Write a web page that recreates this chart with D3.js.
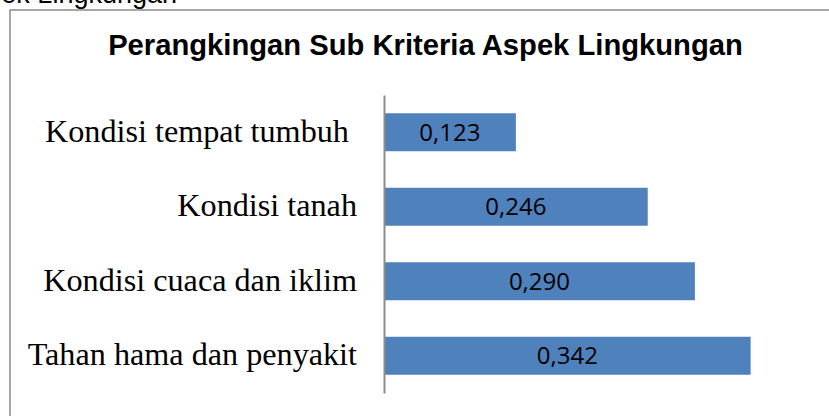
<!DOCTYPE html>
<html>
<head>
<meta charset="utf-8">
<script src="https://cdn.jsdelivr.net/npm/d3@7"></script>
<style>
  body { margin: 0; background: #fff; }
  svg { display: block; }
</style>
</head>
<body>
<div class="chart-wrapper"></div>
<script>
const categories = ['Kondisi tempat tumbuh ', 'Kondisi tanah', 'Kondisi cuaca dan iklim', 'Tahan hama dan penyakit']
const values = [0.123, 0.246, 0.290, 0.342]
const valueLabels = ['0,123', '0,246', '0,290', '0,342']

const width = 829
const height = 416

const svg = d3.select('.chart-wrapper')
    .append('svg')
    .attr('width', width)
    .attr('height', height)

// caption text cut off above the chart
svg.append('text')
    .attr('x', 177)
    .attr('y', 3)
    .attr('text-anchor', 'end')
    .style('font-family', 'Liberation Sans, Arial, sans-serif')
    .style('font-size', '27px')
    .text('Aspek Lingkungan')

// chart frame (runs off the bottom and right)
svg.append('rect')
    .attr('x', 10)
    .attr('y', 10)
    .attr('width', 900)
    .attr('height', 500)
    .attr('fill', 'none')
    .attr('stroke', '#8a8a8a')
    .attr('stroke-width', 1.5)

svg.append('text')
    .attr('x', 425.5)
    .attr('y', 55)
    .attr('text-anchor', 'middle')
    .style('font-family', 'Liberation Sans, Arial, sans-serif')
    .style('font-weight', 'bold')
    .style('font-size', '29.2px')
    .text('Perangkingan Sub Kriteria Aspek Lingkungan')

const x = d3.scaleLinear()
    .domain([0, 0.4])
    .range([384, 384 + 0.4 * 1072])

const y = d3.scaleBand()
    .domain(categories)
    .range([95, 393])
    .paddingInner(0.49)
    .paddingOuter(0.245)

svg.selectAll('rect.bar')
    .data(values)
    .enter().append('rect')
    .attr('class', 'bar')
    .attr('x', x(0))
    .attr('y', (d, i) => y(categories[i]))
    .attr('width', d => x(d) - x(0))
    .attr('height', y.bandwidth())
    .attr('fill', '#4f81bd')

svg.selectAll('text.val')
    .data(values)
    .enter().append('text')
    .attr('class', 'val')
    .attr('x', d => (x(0) + x(d)) / 2)
    .attr('y', (d, i) => y(categories[i]) + y.bandwidth() / 2)
    .attr('dy', '0.36em')
    .attr('text-anchor', 'middle')
    .style('font-family', 'Open Sans, sans-serif')
    .style('font-size', '24px')
    .style('fill', '#000')
    .text((d, i) => valueLabels[i])

// category axis: line only, labels at the left
const axis = d3.axisLeft(y).tickSize(0).tickPadding(27)
const g = svg.append('g')
    .attr('transform', 'translate(384,0)')
    .call(axis)

g.select('.domain')
    .attr('stroke', '#8c8c8c')
    .attr('stroke-width', 2)

g.selectAll('.tick text')
    .style('font-family', 'Liberation Serif, Times New Roman, serif')
    .style('font-size', '32.2px')
    .style('white-space', 'pre')
    .attr('dy', '0.3em')
    .attr('fill', '#000')
</script>
</body>
</html>
